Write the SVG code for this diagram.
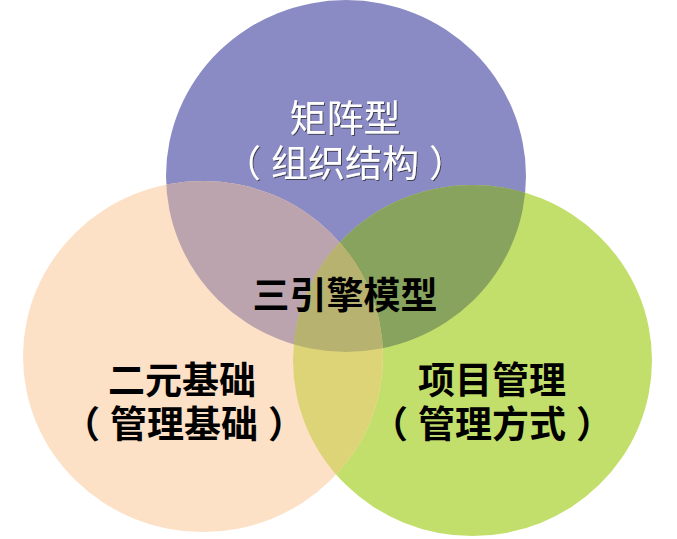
<svg xmlns="http://www.w3.org/2000/svg" width="677" height="539" viewBox="0 0 677 539">
<style>
.lbl{font-family:"Noto Sans CJK SC","Microsoft YaHei",sans-serif;font-size:37px;text-anchor:middle}
.dark{fill:#000;font-weight:bold}
.light{fill:#fff;filter:url(#sh)}
</style>
<defs>
<filter id="sh" x="-10%" y="-10%" width="120%" height="130%">
<feDropShadow dx="1" dy="1" stdDeviation="0.4" flood-color="#222" flood-opacity="0.7"/>
</filter>
<clipPath id="clipTop"><ellipse cx="346" cy="176" rx="180" ry="176"/></clipPath>
<clipPath id="clipLeft"><ellipse cx="203" cy="356.5" rx="180" ry="175.5"/></clipPath>
</defs>
<rect width="677" height="539" fill="#fff"/>
<g id="circle-top"><ellipse cx="346" cy="176" rx="180" ry="176" fill="#8A8AC4"/></g>
<g id="circle-right"><ellipse cx="472.5" cy="360.5" rx="179.5" ry="175.5" fill="#C3DF6B"/></g>
<g id="circle-left"><ellipse cx="203" cy="356.5" rx="180" ry="175.5" fill="#FDE1C7"/></g>
<g id="overlaps">
<g clip-path="url(#clipTop)">
<ellipse cx="203" cy="356.5" rx="180" ry="175.5" fill="#BBA4AE"/>
<ellipse cx="472.5" cy="360.5" rx="179.5" ry="175.5" fill="#88A35E"/>
</g>
<g clip-path="url(#clipLeft)">
<ellipse cx="472.5" cy="360.5" rx="179.5" ry="175.5" fill="#DDD478"/>
</g>
<g clip-path="url(#clipTop)"><g clip-path="url(#clipLeft)">
<ellipse cx="472.5" cy="360.5" rx="179.5" ry="175.5" fill="#B8B271"/>
</g></g>
</g>
<g id="label-top" class="lbl light">
<text x="345" y="132">矩阵型</text>
<text x="345" y="177">（<tspan dx="10">组织结构</tspan><tspan dx="10">）</tspan></text>
</g>
<g id="label-center" class="lbl dark">
<text x="345" y="309">三引擎模型</text>
</g>
<g id="label-left" class="lbl dark">
<text x="182" y="394">二元基础</text>
<text x="184" y="438">（<tspan dx="10">管理基础</tspan><tspan dx="10">）</tspan></text>
</g>
<g id="label-right" class="lbl dark">
<text x="492" y="394">项目管理</text>
<text x="492" y="438">（<tspan dx="10">管理方式</tspan><tspan dx="10">）</tspan></text>
</g>
</svg>
